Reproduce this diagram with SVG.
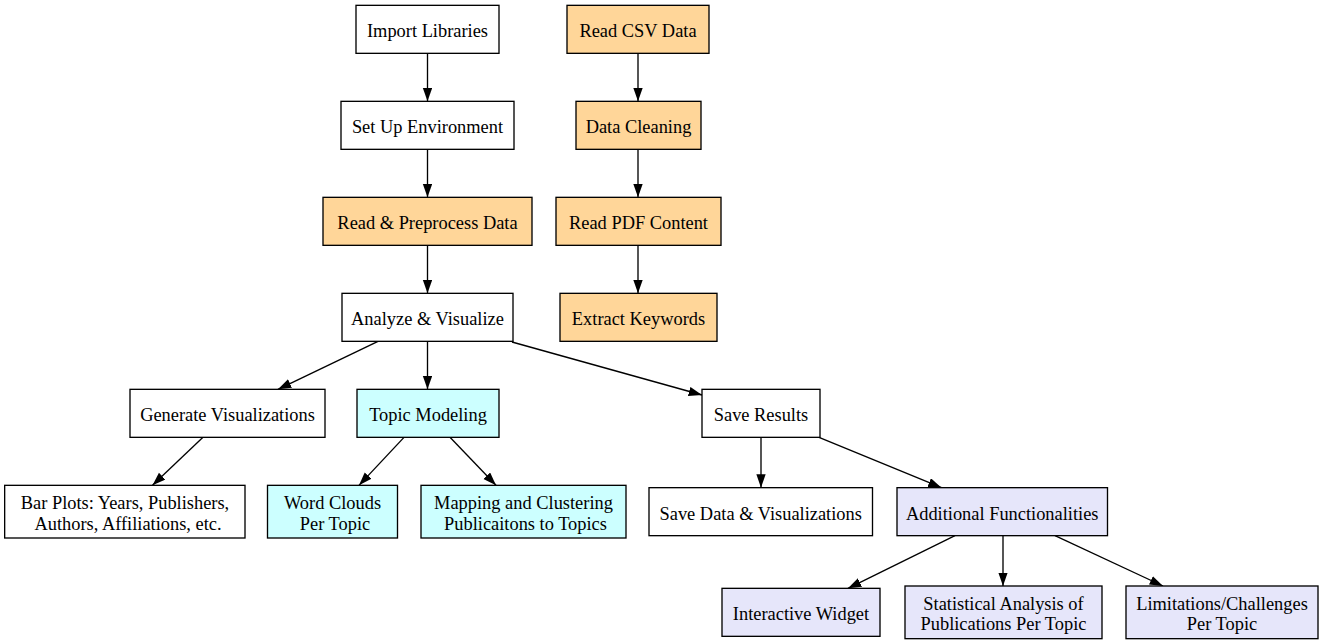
<svg xmlns="http://www.w3.org/2000/svg" width="1324" height="644" viewBox="0 0 1324 644">
<style>
.n rect{stroke:#000;stroke-width:1.33}
.w{fill:#fff}
.o{fill:#ffd699}
.c{fill:#ccffff}
.p{fill:#e6e6fa}
text{font-family:"Liberation Serif","Times New Roman",serif;font-size:18.4px;fill:#000;text-anchor:middle}
#edges line{stroke:#000;stroke-width:1.33;marker-end:url(#ah)}
</style>
<defs>
<marker id="ah" markerUnits="userSpaceOnUse" markerWidth="14" markerHeight="10" refX="13.33" refY="4.67" orient="auto">
<path d="M0,0 L13.33,4.67 L0,9.33 z" fill="#000"/>
</marker>
</defs>
<rect width="1324" height="644" fill="#fff"/>
<g id="edges">
<line x1="427.5" y1="53.33" x2="427.5" y2="101.33"/>
<line x1="638" y1="53.33" x2="638" y2="101.33"/>
<line x1="427.5" y1="149.33" x2="427.5" y2="197.33"/>
<line x1="638" y1="149.33" x2="638" y2="197.33"/>
<line x1="427.5" y1="245.33" x2="427.5" y2="293.33"/>
<line x1="638" y1="245.33" x2="638" y2="293.33"/>
<line x1="378" y1="341.33" x2="278" y2="389.33"/>
<line x1="427.5" y1="341.33" x2="427.5" y2="389.33"/>
<line x1="512" y1="342" x2="702" y2="395"/>
<line x1="203" y1="437.33" x2="152.5" y2="485.33"/>
<line x1="404" y1="437.33" x2="359" y2="485.33"/>
<line x1="450" y1="437.33" x2="496" y2="485.33"/>
<line x1="761" y1="437.33" x2="761" y2="487.67"/>
<line x1="819" y1="437.33" x2="941.5" y2="487.67"/>
<line x1="955" y1="535.67" x2="848" y2="588.33"/>
<line x1="1003" y1="535.67" x2="1003" y2="586"/>
<line x1="1055" y1="535.67" x2="1163" y2="586"/>
</g>
<g id="import" class="n"><rect class="w" x="356" y="5.33" width="143" height="48"/><text x="427.5" y="37.3">Import Libraries</text></g>
<g id="readcsv" class="n"><rect class="o" x="567" y="5.33" width="142" height="48"/><text x="638" y="37.3">Read CSV Data</text></g>
<g id="setup" class="n"><rect class="w" x="341" y="101.33" width="173" height="48"/><text x="427.5" y="133.3">Set Up Environment</text></g>
<g id="cleaning" class="n"><rect class="o" x="576" y="101.33" width="125" height="48"/><text x="638.5" y="133.3">Data Cleaning</text></g>
<g id="preprocess" class="n"><rect class="o" x="323" y="197.33" width="209" height="48"/><text x="427.5" y="229.3">Read &amp; Preprocess Data</text></g>
<g id="readpdf" class="n"><rect class="o" x="556" y="197.33" width="165" height="48"/><text x="638.5" y="229.3">Read PDF Content</text></g>
<g id="analyze" class="n"><rect class="w" x="342" y="293.33" width="171" height="48"/><text x="427.5" y="325.3">Analyze &amp; Visualize</text></g>
<g id="extract" class="n"><rect class="o" x="560" y="293.33" width="157" height="48"/><text x="638.5" y="325.3">Extract Keywords</text></g>
<g id="genvis" class="n"><rect class="w" x="130" y="389.33" width="195" height="48"/><text x="227.5" y="421.3">Generate Visualizations</text></g>
<g id="topic" class="n"><rect class="c" x="357" y="389.33" width="142" height="48"/><text x="428" y="421.3">Topic Modeling</text></g>
<g id="saveres" class="n"><rect class="w" x="702" y="389.33" width="118" height="48"/><text x="761" y="421.3">Save Results</text></g>
<g id="barplots" class="n"><rect class="w" x="4.67" y="485.33" width="240.33" height="52.67"/><text x="125" y="509">Bar Plots: Years, Publishers,</text><text x="128" y="529.7">Authors, Affiliations, etc.</text></g>
<g id="wordclouds" class="n"><rect class="c" x="267.5" y="485.33" width="130" height="52.67"/><text x="332.5" y="509">Word Clouds</text><text x="335" y="529.7">Per Topic</text></g>
<g id="mapping" class="n"><rect class="c" x="421" y="485.33" width="205" height="52.67"/><text x="523.5" y="509">Mapping and Clustering</text><text x="525.5" y="529.7">Publicaitons to Topics</text></g>
<g id="savedata" class="n"><rect class="w" x="649" y="487.67" width="223.5" height="48"/><text x="760.7" y="519.5">Save Data &amp; Visualizations</text></g>
<g id="additional" class="n"><rect class="p" x="897" y="487.67" width="210.5" height="48"/><text x="1002.2" y="519.5">Additional Functionalities</text></g>
<g id="interactive" class="n"><rect class="p" x="722" y="588.33" width="158" height="48"/><text x="801" y="620.2">Interactive Widget</text></g>
<g id="statistical" class="n"><rect class="p" x="905" y="586" width="197" height="52.67"/><text x="1003.5" y="609.7">Statistical Analysis of</text><text x="1003.5" y="630.4">Publications Per Topic</text></g>
<g id="limitations" class="n"><rect class="p" x="1126" y="586" width="192" height="52.67"/><text x="1222" y="609.7">Limitations/Challenges</text><text x="1222" y="630.4">Per Topic</text></g>
</svg>
